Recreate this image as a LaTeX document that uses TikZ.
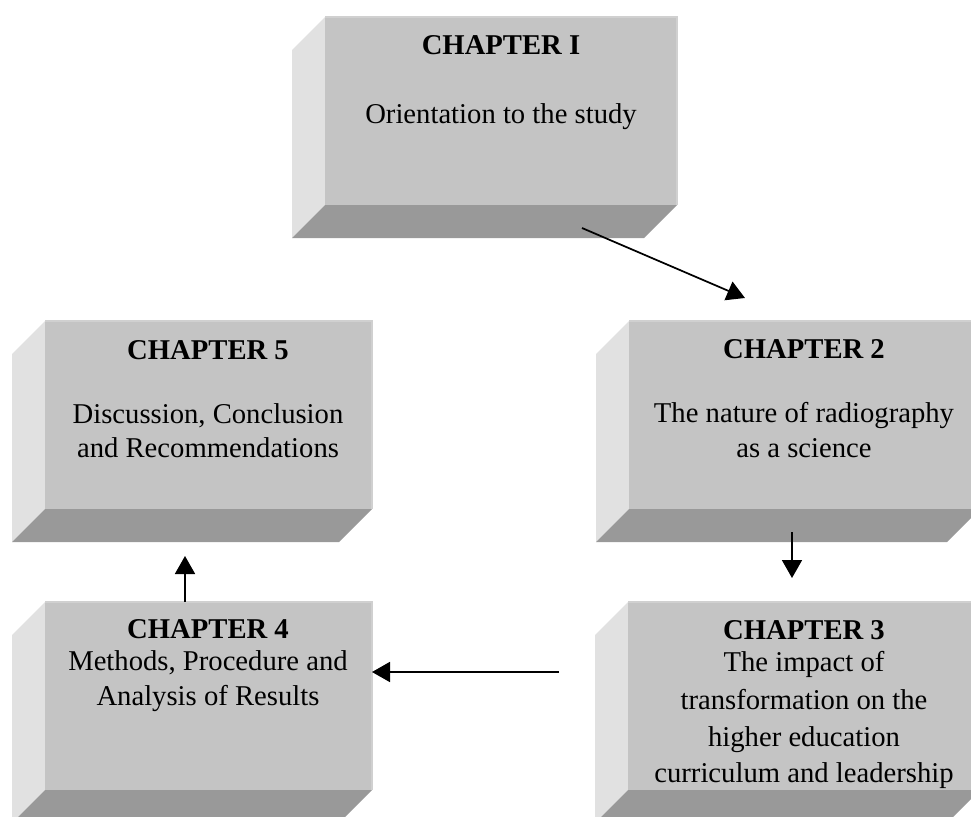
\documentclass[tikz,border=0pt]{standalone}
\usepackage{fontspec}
\setmainfont{Liberation Serif}
\usetikzlibrary{arrows.meta}
\definecolor{frontc}{RGB}{196,196,196}
\definecolor{sidec}{RGB}{225,225,225}
\definecolor{botc}{RGB}{153,153,153}
\definecolor{edgec}{RGB}{208,208,208}
\newcommand{\bevelbox}[5]{%
  % #1 name, #2 left, #3 top, #4 right, #5 bottom
  \fill[sidec] (#2-33,#3+33) -- (#2,#3) -- (#2,#5) -- (#2-33,#5+33) -- cycle;
  \fill[botc] (#2,#5) -- (#4,#5) -- (#4-33,#5+33) -- (#2-33,#5+33) -- cycle;
  \path[fill=frontc] (#2,#3) rectangle (#4,#5);
  \draw[edgec, line width=0.8pt] (#2,#3) -- (#4,#3) -- (#4,#5);
  \node[frontbox, minimum width={(#4-#2)*0.75pt}, minimum height={(#5-#3)*0.75pt}] (#1) at ({(#2+#4)/2},{(#3+#5)/2}) {};%
}
\tikzset{
  frontbox/.style={rectangle, inner sep=0pt, outer sep=0pt},
  ln/.style={anchor=base, inner sep=0pt, font=\fontsize{21.5}{25}\selectfont},
  hd/.style={ln, font=\fontsize{21.5}{25}\selectfont\bfseries},
  conn/.style={line width=1.3pt, -{Triangle[width=15pt, length=13.5pt]}}
}
\begin{document}
\begin{tikzpicture}[x=0.75pt, y=-0.75pt]
\clip (0,0) rectangle (971,817);
\fill[white] (0,0) rectangle (971,817);

\bevelbox{b1}{325}{17}{677}{205}
\bevelbox{b2}{629}{321}{980}{509}
\bevelbox{b3}{628}{602}{980}{790}
\bevelbox{b4}{45}{602}{372}{790}
\bevelbox{b5}{45}{321}{372}{509}

% Box 1
\node[hd] (t1) at (501,55) {CHAPTER I};
\node[ln] (t1a) at (501,123) {Orientation to the study};
% Box 2
\node[hd] (t2) at (804,358) {CHAPTER 2};
\node[ln] (t2a) at (804,422) {The nature of radiography};
\node[ln] (t2b) at (804,457) {as a science};
% Box 5
\node[hd] (t5) at (208,359) {CHAPTER 5};
\node[ln] (t5a) at (208,423) {Discussion, Conclusion};
\node[ln] (t5b) at (208,457) {and Recommendations};
% Box 4
\node[hd] (t4) at (208,638) {CHAPTER 4};
\node[ln] (t4a) at (208,670) {Methods, Procedure and};
\node[ln] (t4b) at (208,705) {Analysis of Results};
% Box 3
\node[hd] (t3) at (804,639) {CHAPTER 3};
\node[ln] (t3a) at (804,671) {The impact of};
\node[ln] (t3b) at (804,709) {transformation on the};
\node[ln] (t3c) at (804,746) {higher education};
\node[ln] (t3d) at (804,782) {curriculum and leadership};

% connectors
\coordinate (a1s) at (582,228);
\coordinate (a1e) at (745,298);
\coordinate (a2s) at (792,532);
\coordinate (a2e) at (792,578);
\coordinate (a3s) at (559,672);
\coordinate (a4e) at (185,556);

\draw[conn] (a1s) -- (a1e);
\draw[conn] (a2s) -- (a2e);
\draw[conn] (a3s) -- (a3s -| b4.east);
\draw[conn] (b4.north -| a4e) -- (a4e);
\end{tikzpicture}
\end{document}
